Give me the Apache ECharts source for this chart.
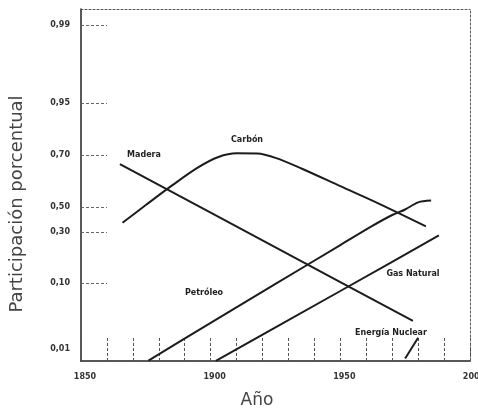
<!DOCTYPE html>
<html>
<head>
<meta charset="utf-8">
<script src="https://cdn.jsdelivr.net/npm/echarts@6/dist/echarts.min.js"></script>
<style>
  html, body { margin: 0; padding: 0; background: #fff; }
  #chart { width: 478px; height: 412px; }
</style>
</head>
<body>
<div id="chart"></div>
<script>
// ---- Printed logistic-paper scale (share ticks and their place along the axis, 0..100) ----
const tickShares = [0.01, 0.10, 0.30, 0.50, 0.70, 0.95, 0.99];
const tickLabels = ['0,01', '0,10', '0,30', '0,50', '0,70', '0,95', '0,99'];
const tickAxisPos = [3.41, 22.16, 36.65, 43.75, 58.52, 73.30, 95.45];

// ---- Data: market share (fraction) by year ----
const maderaYears = [1865, 1900, 1950, 1978];
const maderaShare = [0.668, 0.453, 0.102, 0.0272];

const carbonYears = [1866, 1875, 1885, 1895, 1903, 1910, 1918, 1925, 1935, 1950, 1965, 1983];
const carbonShare = [0.370, 0.508, 0.586, 0.655, 0.693, 0.714, 0.7125, 0.690, 0.652, 0.584, 0.513, 0.342];

const petroleoYears = [1876, 1900, 1925, 1950, 1962, 1970, 1975, 1980, 1985];
const petroleoShare = [0.0066, 0.0255, 0.0971, 0.2326, 0.3414, 0.4327, 0.479, 0.519, 0.526];

const gasYears = [1902, 1925, 1950, 1970, 1988];
const gasShare = [0.0065, 0.0217, 0.0767, 0.163, 0.281];

const nuclearYears = [1975, 1980];
const nuclearShare = [0.0071, 0.015];

const xLabelYears = [1850, 1900, 1950, 2000];

// ---- scale transform: share -> axis position (piecewise linear in logit) ----
const logit = p => Math.log(p / (1 - p));
const tickLogits = tickShares.map(logit);
function toAxis(p) {
  const l = logit(p);
  const n = tickLogits.length;
  let i = 0;
  while (i < n - 2 && l > tickLogits[i + 1]) i++;
  const t = (l - tickLogits[i]) / (tickLogits[i + 1] - tickLogits[i]);
  return tickAxisPos[i] + t * (tickAxisPos[i + 1] - tickAxisPos[i]);
}
const build = (ys, ss) => ys.map((y, k) => [y, toAxis(ss[k])]);

const lineColor = '#1c1c1c';
function lineSeries(name, ys, ss, smooth) {
  return {
    name, type: 'line', data: build(ys, ss), showSymbol: false, smooth: smooth,
    lineStyle: { color: lineColor, width: 2 }, clip: true, silent: true
  };
}

const chart = echarts.init(document.getElementById('chart'), null, { renderer: 'canvas' });
const labelFont = 'DejaVu Sans';
chart.setOption({
  animation: false,
  backgroundColor: '#fff',
  grid: { left: 81, right: 8, top: 9, bottom: 51, containLabel: false, outerBoundsMode: 'none' },
  xAxis: [{
    type: 'value', min: 1850, max: 2000, interval: 10,
    name: 'Año', nameLocation: 'middle', nameGap: 31,
    nameTextStyle: { fontFamily: labelFont, fontSize: 17, color: '#444', padding: [0, 37, 0, 0] },
    axisLine: { show: true, lineStyle: { color: '#222', width: 1.5 } },
    axisTick: { show: true, inside: true, length: 24, lineStyle: { color: '#555', width: 1, type: [3, 2] } },
    axisLabel: {
      margin: 12, fontFamily: labelFont, fontSize: 8, fontWeight: 'bold', color: '#333',
      showMaxLabel: true, showMinLabel: true, hideOverlap: false, padding: [0, 0, 0, 8],
      formatter: v => (xLabelYears.indexOf(v) >= 0 ? String(v) : '')
    },
    splitLine: { show: false }
  }, {
    type: 'value', min: 1850, max: 2000, position: 'top',
    axisLine: { show: true, onZero: false, lineStyle: { color: '#555', width: 1, type: [2, 2] } },
    axisTick: { show: false }, axisLabel: { show: false }, splitLine: { show: false }
  }],
  yAxis: [{
    type: 'value', min: 0, max: 100,
    name: 'Participación porcentual', nameLocation: 'middle', nameGap: 55,
    nameTextStyle: { fontFamily: labelFont, fontSize: 18, color: '#444', padding: [0, 38, 0, 0] },
    axisLine: { show: true, lineStyle: { color: '#222', width: 1.5 } },
    axisTick: {
      show: true, inside: true, length: 26,
      customValues: tickShares.slice(1).map(toAxis),
      lineStyle: { color: '#666', width: 1, type: [3, 2] }
    },
    axisLabel: {
      margin: 11, fontFamily: labelFont, fontSize: 8, fontWeight: 'bold', color: '#333',
      customValues: tickShares.map(toAxis),
      formatter: v => {
        let best = 0, d = Infinity;
        tickShares.forEach((s, k) => { const dd = Math.abs(toAxis(s) - v); if (dd < d) { d = dd; best = k; } });
        return tickLabels[best];
      }
    },
    splitLine: { show: false }
  }, {
    type: 'value', min: 0, max: 100, position: 'right',
    axisLine: { show: true, onZero: false, lineStyle: { color: '#555', width: 1, type: [2, 2] } },
    axisTick: { show: false }, axisLabel: { show: false }, splitLine: { show: false }
  }],
  series: [
    lineSeries('Madera', maderaYears, maderaShare, false),
    lineSeries('Carbón', carbonYears, carbonShare, 0.3),
    lineSeries('Petróleo', petroleoYears, petroleoShare, 0.3),
    lineSeries('Gas Natural', gasYears, gasShare, false),
    lineSeries('Energía Nuclear', nuclearYears, nuclearShare, false)
  ],
  graphic: [
    ['Madera', 144, 155], ['Carbón', 247, 140], ['Petróleo', 204, 293],
    ['Gas Natural', 413, 274], ['Energía Nuclear', 391, 333]
  ].map(([t, x, y]) => ({
    type: 'text', x, y, silent: true,
    style: { text: t, fill: '#222', font: 'bold 8px "DejaVu Sans"', align: 'center', verticalAlign: 'middle' }
  }))
});
</script>
</body>
</html>
